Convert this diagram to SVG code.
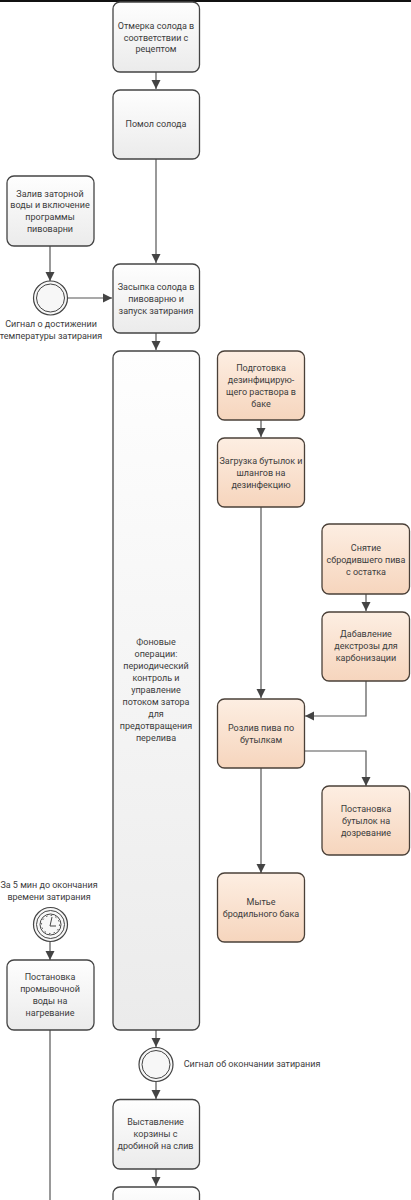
<svg xmlns="http://www.w3.org/2000/svg" width="411" height="1200" viewBox="0 0 411 1200">
<style>
text{font-family:Roboto,"Noto Sans","DejaVu Sans",sans-serif;font-size:9px;fill:#3c3c3c;text-anchor:middle}
.t{stroke:#444;stroke-width:1.3;fill:url(#g)}
.o{stroke:#4a4038;stroke-width:1.3;fill:url(#p)}
.c{fill:none;stroke:#555;stroke-width:1.2}
.e{fill:#f7f7f7;stroke:#444;stroke-width:1.2}
.s{fill:none;stroke:#444;stroke-width:1}
</style>
<defs>
<linearGradient id="g" x1="0" y1="0" x2="0" y2="1"><stop offset="0" stop-color="#fefefe"/><stop offset="1" stop-color="#ebebeb"/></linearGradient>
<linearGradient id="p" x1="0" y1="0" x2="0" y2="1"><stop offset="0" stop-color="#fdeee2"/><stop offset="1" stop-color="#f6d5bd"/></linearGradient>
<marker id="a" markerUnits="userSpaceOnUse" markerWidth="10" markerHeight="10" refX="9" refY="5" orient="auto"><path d="M0 0.500L9 5L0 9.500z" fill="#444"/></marker>
</defs>
<rect width="411" height="2" fill="#111"/>
<g id="connectors">
<path class="c" d="M156 72V89" marker-end="url(#a)"/>
<path class="c" d="M156 159V263" marker-end="url(#a)"/>
<path class="c" d="M156 333V350" marker-end="url(#a)"/>
<path class="c" d="M50 246V281" marker-end="url(#a)"/>
<path class="c" d="M68 298H112" marker-end="url(#a)"/>
<path class="c" d="M261 420V437" marker-end="url(#a)"/>
<path class="c" d="M261 507V698" marker-end="url(#a)"/>
<path class="c" d="M366 594V611" marker-end="url(#a)"/>
<path class="c" d="M366 681V716H305" marker-end="url(#a)"/>
<path class="c" d="M305 751H366V786" marker-end="url(#a)"/>
<path class="c" d="M261 768V873" marker-end="url(#a)"/>
<path class="c" d="M50 942V960" marker-end="url(#a)"/>
<path class="c" d="M50 1030V1200"/>
<path class="c" d="M156 1030V1047" marker-end="url(#a)"/>
<path class="c" d="M156 1082V1099" marker-end="url(#a)"/>
<path class="c" d="M156 1169V1186" marker-end="url(#a)"/>
</g>
<g id="n1"><rect class="t" x="113" y="2" width="86.500" height="70" rx="7"/><text x="156" y="29">Отмерка солода в</text><text x="156" y="41">соответствии с</text><text x="156" y="52">рецептом</text></g>
<g id="n2"><rect class="t" x="113" y="90" width="86.500" height="69" rx="7"/><text x="156" y="127">Помол солода</text></g>
<g id="n3"><rect class="t" x="7" y="176" width="87" height="70" rx="7"/><text x="50" y="197">Залив заторной</text><text x="50" y="208">воды и включение</text><text x="50" y="220">программы</text><text x="50" y="232">пивоварни</text></g>
<g id="n4"><circle class="e" cx="50.500" cy="298" r="17"/><circle class="s" cx="50.500" cy="298" r="14"/><text x="51" y="327">Сигнал о достижении</text><text x="51" y="339">температуры затирания</text></g>
<g id="n5"><rect class="t" x="113" y="264" width="86.500" height="69" rx="7"/><text x="156" y="290">Засыпка солода в</text><text x="156" y="302">пивоварню и</text><text x="156" y="314">запуск затирания</text></g>
<g id="n6"><rect class="t" x="113" y="351" width="86.500" height="679" rx="7"/><text x="156" y="645">Фоновые</text><text x="156" y="657">операции:</text><text x="156" y="669">периодический</text><text x="156" y="681">контроль и</text><text x="156" y="693">управление</text><text x="156" y="705">потоком затора</text><text x="156" y="717">для</text><text x="156" y="729">предотвращения</text><text x="156" y="741">перелива</text></g>
<g id="n7"><rect class="o" x="217.500" y="351" width="87" height="69" rx="7"/><text x="261" y="371">Подготовка</text><text x="261" y="383">дезинфицирую-</text><text x="261" y="395">щего раствора в</text><text x="261" y="407">баке</text></g>
<g id="n8"><rect class="o" x="217.500" y="438" width="87" height="69" rx="7"/><text x="261" y="464">Загрузка бутылок и</text><text x="261" y="476">шлангов на</text><text x="261" y="488">дезинфекцию</text></g>
<g id="n9"><rect class="o" x="322" y="524" width="87.500" height="70" rx="7"/><text x="366" y="551">Снятие</text><text x="366" y="563">сбродившего пива</text><text x="366" y="575">с остатка</text></g>
<g id="n10"><rect class="o" x="322" y="612" width="87.500" height="69" rx="7"/><text x="366" y="637">Дабавление</text><text x="366" y="649">декстрозы для</text><text x="366" y="661">карбонизации</text></g>
<g id="n11"><rect class="o" x="217.500" y="699" width="87" height="69" rx="7"/><text x="261" y="731">Розлив пива по</text><text x="261" y="743">бутылкам</text></g>
<g id="n12"><rect class="o" x="322" y="786" width="87.500" height="69" rx="7"/><text x="366" y="812">Постановка</text><text x="366" y="824">бутылок на</text><text x="366" y="836">дозревание</text></g>
<g id="n13"><rect class="o" x="217.500" y="873" width="87" height="69" rx="7"/><text x="261" y="905">Мытье</text><text x="261" y="917">бродильного бака</text></g>
<g id="n14"><text x="49" y="888">За 5 мин до окончания</text><text x="49" y="900">времени затирания</text><circle class="e" cx="50.500" cy="924.500" r="17"/><circle class="s" cx="50.500" cy="924.500" r="14"/><circle class="s" cx="50.500" cy="924.500" r="10.500"/><circle class="s" cx="50.500" cy="924.500" r="9" stroke-dasharray="1.500 3.200" stroke-width="2"/><path class="s" d="M52 917L50 926L56 926" stroke-width="1.400"/></g>
<g id="n15"><rect class="t" x="7" y="960" width="87" height="70" rx="7"/><text x="50" y="980">Постановка</text><text x="50" y="992">промывочной</text><text x="50" y="1004">воды на</text><text x="50" y="1016">нагревание</text></g>
<g id="n16"><circle class="e" cx="156" cy="1064.500" r="17"/><circle class="s" cx="156" cy="1064.500" r="14"/><text x="252" y="1067">Сигнал об окончании затирания</text></g>
<g id="n17"><rect class="t" x="113" y="1099.500" width="86.500" height="69.500" rx="7"/><text x="155.500" y="1125">Выставление</text><text x="155.500" y="1137">корзины с</text><text x="155.500" y="1149">дробиной на слив</text></g>
<g id="n18"><rect class="t" x="113" y="1187" width="86.500" height="60" rx="7"/></g>
</svg>
